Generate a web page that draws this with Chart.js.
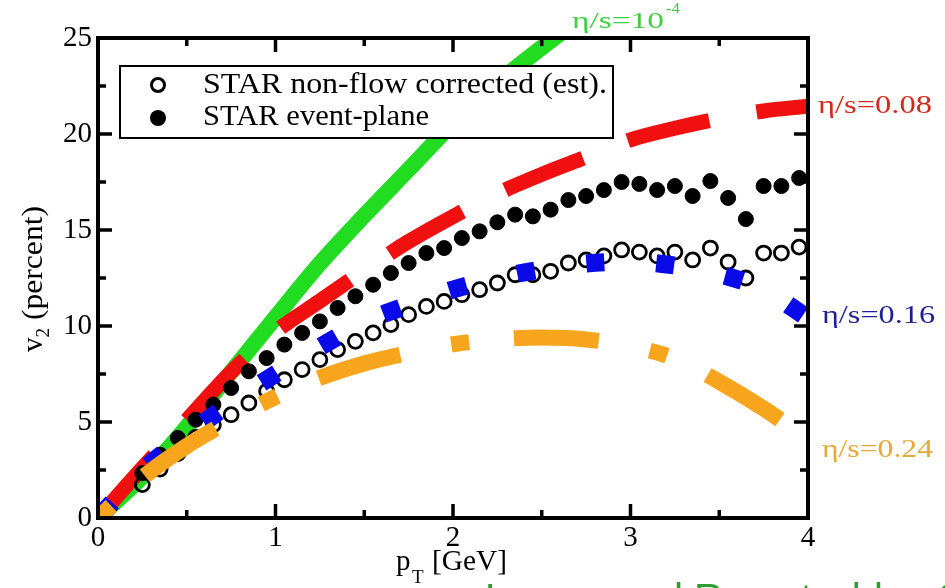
<!DOCTYPE html>
<html>
<head>
<meta charset="utf-8">
<title>v2 vs pT</title>
<script src="https://cdn.jsdelivr.net/npm/chart.js@4/dist/chart.umd.min.js"></script>
<style>
  html, body { margin: 0; padding: 0; background: #fff; overflow: hidden; }
  #c { display: block; }
</style>
</head>
<body>
<canvas id="c" width="945" height="588"></canvas>
<script>
/* ===== data ===== */
// STAR points, pT bins [GeV]
const pT = [0.25,0.35,0.45,0.55,0.65,0.75,0.85,0.95,1.05,1.15,1.25,1.35,1.45,1.55,1.65,1.75,1.85,1.95,
  2.05,2.15,2.25,2.35,2.45,2.55,2.65,2.75,2.85,2.95,3.05,3.15,3.25,3.35,3.45,3.55,3.65,3.75,3.85,3.95];
// STAR event-plane v2 [%]
const v2EventPlane = [2.34,3.3,4.17,5.12,5.9,6.77,7.64,8.33,9.03,9.64,10.24,10.94,11.55,12.15,12.76,13.28,13.8,14.06,
  14.58,14.93,15.4,15.8,15.71,16.06,16.56,16.77,17.08,17.5,17.4,17.08,17.29,16.77,17.55,16.67,15.57,17.29,17.29,17.71];
// STAR non-flow corrected (est.) v2 [%]
const v2NonFlow = [1.74,2.55,3.35,4.2,4.86,5.38,5.99,6.6,7.2,7.73,8.25,8.77,9.2,9.64,10.07,10.59,11.02,11.28,
  11.63,11.89,12.24,12.67,12.67,12.85,13.28,13.44,13.65,13.96,13.85,13.65,13.85,13.44,14.06,13.33,12.5,13.8,13.8,14.11];

// hydro curves
const ptIdeal = [0,0.25,0.5,0.75,1,1.25,1.5,1.75,2,2.25,2.5,2.6];
const v2Ideal = [0,2.15,4.75,7.6,10.45,13.25,15.75,18.15,20.55,22.65,24.5,25.2];   // eta/s = 1e-4
const ptVisc  = [0,0.25,0.5,0.75,1,1.25,1.5,1.75,2,2.25,2.5,2.75,3,3.25,3.5,3.75,4];
const v2Visc08 = [0,2.6,5.1,7.6,9.7,11.3,12.9,14.4,15.7,16.9,17.9,18.8,19.7,20.3,20.8,21.2,21.45];
const v2Visc16 = [0,2.45,4.3,6.0,7.5,8.9,10.2,11.1,11.9,12.5,12.95,13.25,13.35,13.15,12.7,11.9,10.4];
const v2Visc24 = [0,2.1,3.75,5.1,6.3,7.3,8.05,8.6,9.05,9.3,9.4,9.3,8.95,8.3,7.1,5.7,4.1];

// axes
const xTicks = [0,1,2,3,4];
const yTicks = [0,5,10,15,20,25];
const legendLabels = ['STAR non-flow corrected (est).','STAR event-plane'];
const curveLabels = ['η/s=10','η/s=0.08','η/s=0.16','η/s=0.24'];

const SERIF = "'Liberation Serif','Times New Roman',serif";
const xy = (xs, ys) => xs.map((x, i) => ({x, y: ys[i]}));

// draw text squeezed/stretched to a target width
function putText(ctx, str, x, y, size, width, color, family){
  ctx.font = size + 'px ' + (family || SERIF);
  const w = ctx.measureText(str).width;
  const k = width ? width / w : 1;
  ctx.save(); ctx.translate(x, y); ctx.scale(k, 1);
  ctx.fillStyle = color || '#000'; ctx.textBaseline = 'alphabetic'; ctx.textAlign = 'left';
  ctx.fillText(str, 0, 0); ctx.restore();
  return w * k;
}

/* frame with inward ticks on all four sides */
const framePlugin = {
  id: 'frame',
  afterDatasetsDraw(chart){
    const {ctx, chartArea: a, scales: {x, y}} = chart;
    ctx.save();
    ctx.strokeStyle = '#000';
    ctx.lineWidth = 4;
    ctx.strokeRect(a.left, a.top, a.right - a.left, a.bottom - a.top);
    ctx.lineWidth = 3.5;
    ctx.beginPath();
    const xt = [], yt = [];
    xTicks.forEach((v, i) => { xt.push([v, 14]); if (i < xTicks.length - 1) xt.push([v + 0.5, 8]); });
    yTicks.forEach((v, i) => { yt.push([v, 14]); if (i < yTicks.length - 1) yt.push([v + 2.5, 8]); });
    xt.forEach(([v, L]) => {
      const px = x.getPixelForValue(v);
      ctx.moveTo(px, a.bottom); ctx.lineTo(px, a.bottom - L);
      ctx.moveTo(px, a.top); ctx.lineTo(px, a.top + L);
    });
    yt.forEach(([v, L]) => {
      const py = y.getPixelForValue(v);
      ctx.moveTo(a.left, py); ctx.lineTo(a.left + L, py);
      ctx.moveTo(a.right, py); ctx.lineTo(a.right - L, py);
    });
    ctx.stroke();
    ctx.restore();
  },
  afterDraw(chart){
    const {ctx, chartArea: a} = chart;
    ctx.save();
    // legend box
    const lx = a.left + 22, ly = a.top + 28;
    ctx.fillStyle = '#fff';
    ctx.fillRect(lx, ly, 493, 72);
    ctx.strokeStyle = '#000'; ctx.lineWidth = 2;
    ctx.strokeRect(lx, ly, 493, 72);
    ctx.lineWidth = 3;
    ctx.beginPath(); ctx.arc(lx + 38, ly + 19, 6.5, 0, Math.PI * 2); ctx.stroke();
    ctx.fillStyle = '#000';
    ctx.beginPath(); ctx.arc(lx + 38, ly + 52, 8, 0, Math.PI * 2); ctx.fill();
    putText(ctx, legendLabels[0], lx + 83, ly + 27, 30, 404);
    putText(ctx, legendLabels[1], lx + 83, ly + 59, 30, 226);

    // curve labels
    let w = putText(ctx, curveLabels[0], 572, 28, 24, 92, '#3fcf3f');
    putText(ctx, '-4', 572 + w + 2, 13, 15, 14, '#3fcf3f');
    putText(ctx, curveLabels[1], 818, 113, 25, 114, '#d42a1e');
    putText(ctx, curveLabels[2], 822, 323, 25, 113, '#1f1f9a');
    putText(ctx, curveLabels[3], 822, 457, 25, 111, '#e8a838');

    // x title: p_T [GeV]
    putText(ctx, 'p', 396, 570, 29);
    putText(ctx, 'T', 412, 583, 19);
    putText(ctx, '[GeV]', 432, 570, 29, 75);

    // y title: v_2 (percent)
    ctx.translate(42, 352);
    ctx.rotate(-Math.PI / 2);
    let p = putText(ctx, 'v', 0, 0, 29);
    p += putText(ctx, '2', p, 7, 19);
    putText(ctx, ' (percent)', p, 0, 29, 122);
    ctx.restore();

    // slide footer, mostly cut off by the bottom edge
    ctx.save();
    putText(ctx, 'Luzum and Romatschke, 2008', 485, 612, 40, null, '#2e9e2e', "'Liberation Sans',Arial,sans-serif");
    ctx.restore();
  }
};

const curve = (xs, ys, color, width, dash, offset, order) => ({
  type: 'line', data: xy(xs, ys), showLine: true, borderColor: color, borderWidth: width,
  borderDash: dash, borderDashOffset: offset, borderCapStyle: 'butt', borderJoinStyle: 'miter',
  cubicInterpolationMode: 'monotone', pointRadius: 0, fill: false, order
});

new Chart(document.getElementById('c'), {
  type: 'scatter',
  data: {
    datasets: [
      curve(ptIdeal, v2Ideal, '#22dc22', 16, [], 0, 6),
      curve(ptVisc, v2Visc08, '#f01010', 15, [84, 48], 0, 5),
      { label: legendLabels[1], data: xy(pT, v2EventPlane), pointStyle: 'circle', pointRadius: 7.5,
        borderWidth: 1, borderColor: '#000', backgroundColor: '#000', order: 4 },
      { label: legendLabels[0], data: xy(pT, v2NonFlow), pointStyle: 'circle', pointRadius: 7,
        borderWidth: 2.8, borderColor: '#000', backgroundColor: 'rgba(0,0,0,0)', order: 3 },
      curve(ptVisc, v2Visc16, '#0a0ae8', 18, [18, 52], 67, 2),
      curve(ptVisc, v2Visc24, '#f7a51c', 16, [18, 45, 85, 52], 0, 1)
    ]
  },
  options: {
    responsive: false,
    animation: false,
    events: [],
    layout: { padding: { top: 38, right: 137, bottom: 0, left: 0 } },
    plugins: { legend: { display: false }, tooltip: { enabled: false } },
    scales: {
      x: {
        type: 'linear', min: 0, max: 4,
        grid: { display: false, drawTicks: false }, border: { display: false },
        ticks: { stepSize: 1, padding: 3, color: '#000', font: { family: SERIF, size: 29 } },
        afterFit: s => { s.height = 70; }
      },
      y: {
        type: 'linear', min: 0, max: 25,
        grid: { display: false, drawTicks: false }, border: { display: false },
        ticks: { stepSize: 5, padding: 6, color: '#000', font: { family: SERIF, size: 29 } },
        afterFit: s => { s.width = 98; }
      }
    }
  },
  plugins: [framePlugin]
});
</script>
</body>
</html>
